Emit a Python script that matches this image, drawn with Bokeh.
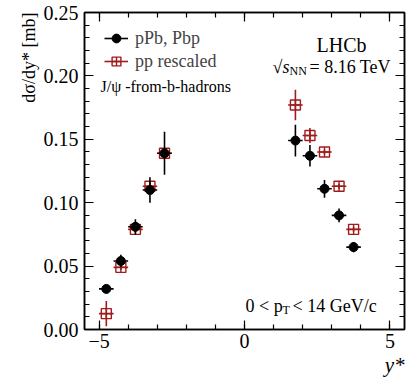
import numpy as np
from bokeh.plotting import figure
from bokeh.models import (Range1d, LinearAxis, SingleIntervalTicker, Label, Legend, Title,
                          LegendItem, NumeralTickFormatter, CustomJSTickFormatter)
from bokeh.embed import file_html
from bokeh.resources import INLINE

# ---- data ----
y_star = [-4.75, -4.25, -3.75, -3.25, -2.75, 1.75, 2.25, 2.75, 3.25, 3.75]
y_half_width = [0.25, 0.25, 0.25, 0.25, 0.25, 0.25, 0.25, 0.25, 0.25, 0.25]
ppb = [0.032, 0.054, 0.081, 0.110, 0.139, 0.149, 0.137, 0.111, 0.090, 0.065]
ppb_err = [0.003, 0.005, 0.006, 0.010, 0.017, 0.0125, 0.0085, 0.007, 0.0055, 0.004]
pp = [0.0125, 0.049, 0.079, 0.113, 0.139, 0.177, 0.153, 0.140, 0.113, 0.079]
pp_err = [0.010, 0.002, 0.002, 0.003, 0.002, 0.012, 0.006, 0.002, 0.002, 0.002]
x_ticks_labels = {-5: "\u22125", 0: "0", 5: "5"}

FONT = "Liberation Serif"
RED = "#a01c1c"

x = np.array(y_star)
xe = np.array(y_half_width)

p = figure(width=409, height=384, output_backend="svg", toolbar_location=None,
           x_range=Range1d(-5.5, 5.5), y_range=Range1d(0, 0.25),
           min_border_left=84, min_border_right=5, min_border_top=12, min_border_bottom=55)
p.xgrid.visible = False
p.ygrid.visible = False
p.outline_line_color = "black"
p.outline_line_width = 1.5
p.background_fill_color = "white"
p.border_fill_color = "white"

xticker = SingleIntervalTicker(interval=5, num_minor_ticks=5)
yticker = SingleIntervalTicker(interval=0.05, num_minor_ticks=5)
p.xaxis.ticker = xticker
p.yaxis.ticker = yticker
p.xaxis.major_label_overrides = x_ticks_labels
p.yaxis.formatter = NumeralTickFormatter(format="0.00")

def style(ax):
    ax.axis_line_width = 1.5
    ax.axis_line_color = "black"
    ax.major_tick_in = 9
    ax.major_tick_out = 0
    ax.minor_tick_in = 5
    ax.minor_tick_out = 0
    ax.major_tick_line_width = 1.2
    ax.minor_tick_line_width = 1.2
    ax.major_tick_line_color = "black"
    ax.minor_tick_line_color = "black"
    ax.major_label_text_font = FONT
    ax.major_label_text_font_size = "20px"
    ax.major_label_text_color = "black"
    ax.major_label_standoff = 6

style(p.xaxis[0])
style(p.yaxis[0])
p.xaxis[0].major_label_standoff = 4

blank = CustomJSTickFormatter(code="return ''")
ax_r = LinearAxis(ticker=yticker, formatter=blank)
ax_t = LinearAxis(ticker=xticker, formatter=blank)
style(ax_r)
style(ax_t)
ax_r.major_label_standoff = 0
ax_t.major_label_standoff = 0
p.add_layout(ax_r, "right")
p.add_layout(ax_t, "above")

# axis titles as Title annotations (outside the frame)
p.add_layout(Title(text="y*", align="right", text_font=FONT, text_font_size="21px",
                   text_font_style="italic", text_color="black", standoff=0, offset=0),
             "below")
p.add_layout(Title(text="d\u03c3/dy* [mb]", align="right", text_font=FONT,
                   text_font_size="18px", text_font_style="normal", text_color="black",
                   standoff=4, offset=0), "left")

# pp rescaled (red)
r_h = p.segment(x0=x - xe, y0=pp, x1=x + xe, y1=pp, line_color=RED, line_width=1.6)
r_v = p.segment(x0=x, y0=np.array(pp) - np.array(pp_err), x1=x,
                y1=np.array(pp) + np.array(pp_err), line_color=RED, line_width=1.6)
r_m = p.scatter(x, pp, marker="square_cross", size=10, fill_color=None,
                line_color=RED, line_width=1.4)

# pPb, Pbp (black)
b_h = p.segment(x0=x - xe, y0=ppb, x1=x + xe, y1=ppb, line_color="black", line_width=1.6)
b_v = p.segment(x0=x, y0=np.array(ppb) - np.array(ppb_err), x1=x,
                y1=np.array(ppb) + np.array(ppb_err), line_color="black", line_width=1.6)
b_m = p.scatter(x, ppb, marker="circle", size=9, fill_color="black", line_color="black")

legend = Legend(items=[LegendItem(label="pPb, Pbp", renderers=[b_h, b_m]),
                       LegendItem(label="pp rescaled", renderers=[r_h, r_m])],
                location=(20, 257), margin=0, padding=0, spacing=1,
                glyph_width=24, glyph_height=22, label_height=22, label_standoff=7,
                label_text_font=FONT, label_text_font_size="18px",
                background_fill_alpha=0, border_line_color=None)
p.add_layout(legend, "center")

def lab(text, x, y, size, align="left", style="normal"):
    p.add_layout(Label(x=x, y=y, x_units="screen", y_units="screen", text=text,
                       text_font=FONT, text_font_size=size, text_align=align,
                       text_baseline="alphabetic", text_font_style=style,
                       text_color="black"))

lab("LHCb", 257, 285, "20px", align="center")
lab("\u221as", 205, 263, "18px", align="right", style="italic")
lab("NN", 205, 259, "12px")
lab("= 8.16 TeV", 225, 263, "18px")
lab("J/\u03c8 -from-b-hadrons", 16, 243, "16px")
lab("0 < p", 161, 24, "18px")
lab("T", 198, 20, "12px")
lab("< 14 GeV/c", 208, 24, "18px")

open("out.html", "w").write(file_html(p, INLINE))
